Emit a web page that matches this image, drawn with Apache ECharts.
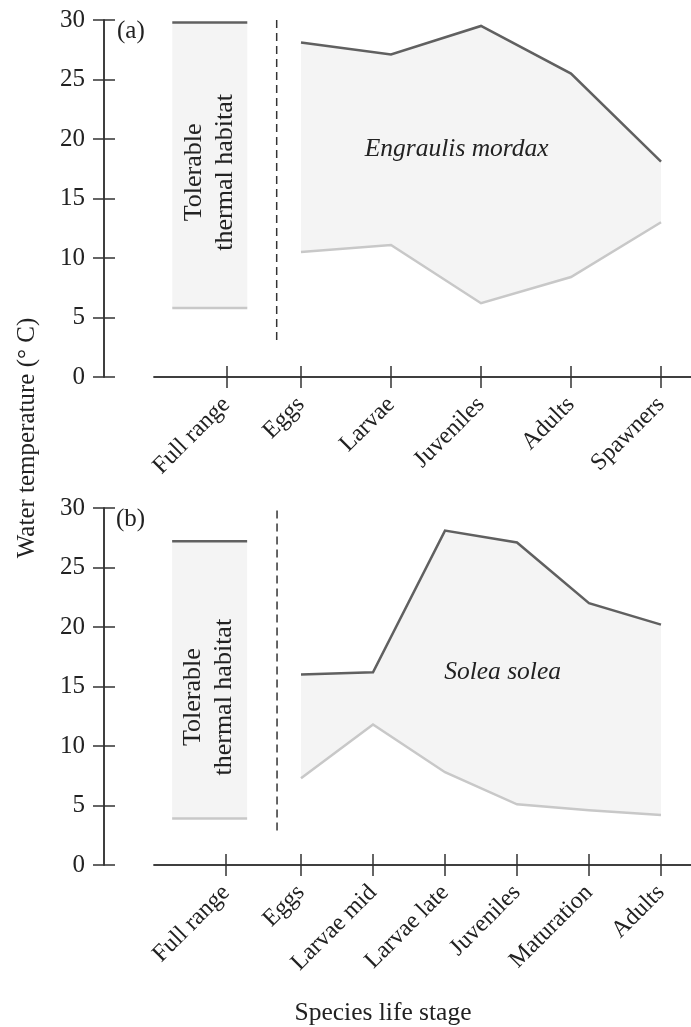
<!DOCTYPE html>
<html>
<head>
<meta charset="utf-8">
<script src="https://cdn.jsdelivr.net/npm/echarts@6/dist/echarts.min.js"></script>
<style>
html,body{margin:0;padding:0;background:#fff;}
#chart{width:691px;height:1027px;}
</style>
</head>
<body>
<div id="chart"></div>
<script>
// ---------- data ----------
const yTicks = [0, 5, 10, 15, 20, 25, 30];

const categoriesA = ['Full range', 'Eggs', 'Larvae', 'Juveniles', 'Adults', 'Spawners'];
const positionsA  = [0.17, 1, 2, 3, 4, 5];
const upperA      = [29.8, 28.1, 27.1, 29.5, 25.5, 18.1];
const lowerA      = [5.8, 10.5, 11.1, 6.2, 8.4, 13.0];
const dividerA    = [[0.73, 3.1], [0.73, 30.5]];
const speciesA    = 'Engraulis mordax';

const categoriesB = ['Full range', 'Eggs', 'Larvae mid', 'Larvae late', 'Juveniles', 'Maturation', 'Adults'];
const positionsB  = [-0.04, 1, 2, 3, 4, 5, 6];
const upperB      = [27.2, 16.0, 16.2, 28.1, 27.1, 22.0, 20.2];
const lowerB      = [3.9, 7.3, 11.8, 7.8, 5.1, 4.6, 4.2];
const dividerB    = [[0.667, 2.9], [0.667, 30.3]];
const speciesB    = 'Solea solea';

const habitatLabel = 'Tolerable\nthermal habitat';

// ---------- style ----------
const FONT = '"Liberation Serif", "DejaVu Serif", serif';
const TXT = '#222';
const AXC = '#333';
const DARK = '#606060';
const LIGHT = '#c8c8c8';
const FILL = '#f4f4f4';

const chart = echarts.init(document.getElementById('chart'));

function xAxesFor(gridIndex, positions, categories, min, max) {
  const base = {
    type: 'value', gridIndex, min, max, position: 'bottom',
    splitLine: {show: false},
    axisLine: {show: true, onZero: false, lineStyle: {color: AXC, width: 1.5}}
  };
  return [
    Object.assign({}, base, {
      axisTick: {show: true, customValues: positions, length: 11, lineStyle: {color: AXC, width: 1.5}},
      axisLabel: {
        show: true, customValues: positions, rotate: 45, margin: 24,
        fontFamily: FONT, fontSize: 24, color: TXT,
        formatter: function (v) {
          let best = 0;
          for (let i = 0; i < positions.length; i++) {
            if (Math.abs(positions[i] - v) < Math.abs(positions[best] - v)) best = i;
          }
          return categories[best];
        }
      }
    }),
    Object.assign({}, base, {
      axisTick: {show: true, inside: true, customValues: positions, length: 11, lineStyle: {color: AXC, width: 1.5}},
      axisLabel: {show: false}
    })
  ];
}

function yAxesFor(gridIndex) {
  const base = {
    type: 'value', gridIndex, min: 0, max: 30, interval: 5, position: 'left', offset: 50,
    splitLine: {show: false},
    axisLine: {show: true, onZero: false, lineStyle: {color: AXC, width: 1.5}}
  };
  return [
    Object.assign({}, base, {
      axisTick: {show: true, length: 11, lineStyle: {color: AXC, width: 1.5}},
      axisLabel: {show: true, margin: 19, fontFamily: FONT, fontSize: 25, color: TXT}
    }),
    Object.assign({}, base, {
      axisTick: {show: true, inside: true, length: 11, lineStyle: {color: AXC, width: 1.5}},
      axisLabel: {show: false}
    })
  ];
}

function panelSeries(xi, yi, positions, upper, lower, divider, species, speciesAt, habitatAt) {
  return [
    {
      type: 'custom', xAxisIndex: xi, yAxisIndex: yi, silent: true, clip: false,
      data: [[0]],
      renderItem: function (params, api) {
        const children = [];
        const up = [], lo = [];
        for (let i = 1; i < positions.length; i++) {
          up.push(api.coord([positions[i], upper[i]]));
          lo.push(api.coord([positions[i], lower[i]]));
        }
        const poly = up.concat(lo.slice().reverse());
        children.push({type: 'polygon', shape: {points: poly}, style: {fill: FILL, stroke: null}});
        children.push({type: 'polyline', shape: {points: up}, style: {stroke: DARK, lineWidth: 2.5, fill: null}});
        children.push({type: 'polyline', shape: {points: lo}, style: {stroke: LIGHT, lineWidth: 2.5, fill: null}});
        // full range bar
        const t = api.coord([positions[0], upper[0]]);
        const b = api.coord([positions[0], lower[0]]);
        const x0 = t[0] - 54, x1 = t[0] + 21;
        children.push({type: 'rect', shape: {x: x0, y: t[1], width: x1 - x0, height: b[1] - t[1]}, style: {fill: FILL}});
        children.push({type: 'line', shape: {x1: x0, y1: t[1], x2: x1, y2: t[1]}, style: {stroke: DARK, lineWidth: 2.5}});
        children.push({type: 'line', shape: {x1: x0, y1: b[1], x2: x1, y2: b[1]}, style: {stroke: LIGHT, lineWidth: 2.5}});
        // habitat label
        const h = api.coord(habitatAt);
        children.push({type: 'text', x: t[0] - 17, y: h[1], rotation: Math.PI / 2,
          style: {text: habitatLabel, fontFamily: FONT, fontSize: 26, lineHeight: 31, fill: TXT,
            align: 'center', verticalAlign: 'middle'}});
        // species label
        const s = api.coord(speciesAt);
        children.push({type: 'text', x: s[0], y: s[1],
          style: {text: species, fontFamily: FONT, fontSize: 25.5, fontStyle: 'italic', fill: TXT,
            align: 'center', verticalAlign: 'middle'}});
        return {type: 'group', children};
      }
    },
    {
      type: 'line', xAxisIndex: xi, yAxisIndex: yi, data: divider, symbol: 'none', silent: true,
      lineStyle: {color: AXC, width: 1.5, type: [8, 5]}
    }
  ];
}

const option = {
  animation: false,
  backgroundColor: '#fff',
  grid: [
    {left: 154, right: 0, top: 20, height: 357},
    {left: 154, right: 0, top: 508, height: 357}
  ],
  xAxis: [].concat(
    xAxesFor(0, positionsA, categoriesA, -0.633, 5.333),
    xAxesFor(1, positionsB, categoriesB, -1.042, 6.417)
  ),
  yAxis: [].concat(yAxesFor(0), yAxesFor(1)),
  series: [].concat(
    panelSeries(0, 0, positionsA, upperA, lowerA, dividerA, speciesA, [2.73, 19.1], [0, 17.2]),
    panelSeries(2, 2, positionsB, upperB, lowerB, dividerB, speciesB, [3.8, 16.2], [0, 14.1])
  ),
  graphic: [
    {type: 'text', left: 117, top: 19, style: {text: '(a)', fontFamily: FONT, fontSize: 25, fill: TXT}},
    {type: 'text', left: 116, top: 507, style: {text: '(b)', fontFamily: FONT, fontSize: 25, fill: TXT}},
    {type: 'text', x: 27, y: 438, rotation: Math.PI / 2,
      style: {text: 'Water temperature (° C)', fontFamily: FONT, fontSize: 25, fill: TXT,
        align: 'center', verticalAlign: 'middle'}},
    {type: 'text', x: 383, y: 1013,
      style: {text: 'Species life stage', fontFamily: FONT, fontSize: 25.5, fill: TXT,
        align: 'center', verticalAlign: 'middle'}}
  ]
};
chart.setOption(option);
</script>
</body>
</html>
